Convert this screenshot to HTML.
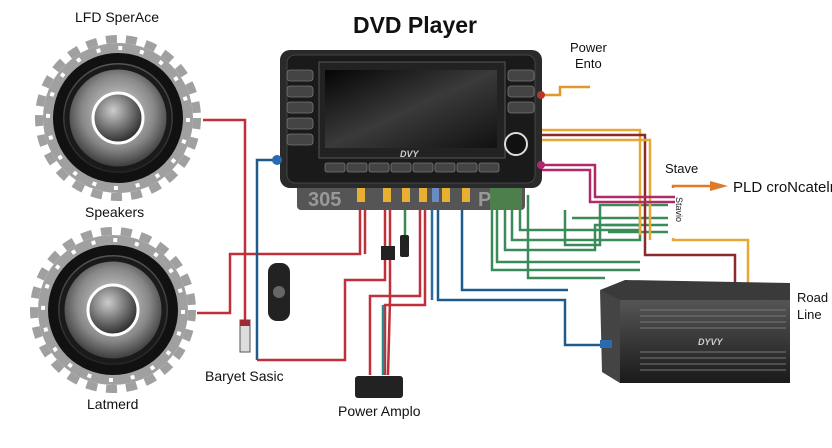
<!DOCTYPE html>
<html><head><meta charset="utf-8"><style>
html,body{margin:0;padding:0;background:#fff;}
svg{display:block;font-family:"Liberation Sans",sans-serif;}
</style></head><body>
<svg width="832" height="448" viewBox="0 0 832 448" xmlns="http://www.w3.org/2000/svg">
<defs>
<radialGradient id="cone" cx="50%" cy="45%" r="55%">
<stop offset="0" stop-color="#e0e0e0"/><stop offset="0.6" stop-color="#888"/><stop offset="1" stop-color="#222"/>
</radialGradient>
<radialGradient id="cap" cx="40%" cy="35%" r="70%">
<stop offset="0" stop-color="#ccc"/><stop offset="1" stop-color="#222"/>
</radialGradient>
<linearGradient id="scr" x1="0" y1="0" x2="1" y2="1">
<stop offset="0" stop-color="#050505"/><stop offset="0.5" stop-color="#3a3a3a"/><stop offset="1" stop-color="#111"/>
</linearGradient>
<linearGradient id="amp" x1="0" y1="0" x2="0" y2="1">
<stop offset="0" stop-color="#555"/><stop offset="1" stop-color="#1a1a1a"/>
</linearGradient>
<g id="speaker">
<circle cx="0" cy="0" r="75" fill="#a0a0a0"/>
<circle cx="0" cy="0" r="79" fill="none" stroke="#a0a0a0" stroke-width="8" stroke-dasharray="11 9"/>
<circle cx="0" cy="0" r="70" fill="none" stroke="#fff" stroke-width="4" stroke-dasharray="4 18"/>
<circle cx="0" cy="0" r="65" fill="#111"/>
<circle cx="0" cy="0" r="55" fill="url(#cone)"/>
<circle cx="0" cy="0" r="51" fill="none" stroke="#1a1a1a" stroke-width="5"/>
<circle cx="0" cy="0" r="25" fill="url(#cap)" stroke="#fff" stroke-width="3"/>
</g>
</defs>

<use href="#speaker" x="118" y="118"/>
<use href="#speaker" x="113" y="310"/>

<!-- wires -->
<g fill="none" stroke-width="2.5">
<polyline points="203,120 245,120 245,325" stroke="#c0303a"/>
<polyline points="197,313 230,313 230,254 360,254 360,205" stroke="#c0303a"/>
<polyline points="365,205 365,254" stroke="#c0303a"/>
<polyline points="277,160 257,160 257,360" stroke="#1e5a8a"/>
<polyline points="257,360 345,360 345,280 385,280 385,205" stroke="#c0303a"/>
<polyline points="390,205 390,300 388,375" stroke="#c0303a"/>
<polyline points="420,205 420,296 370,296 370,375" stroke="#c0303a"/>
<polyline points="425,205 425,305 385,305 385,375" stroke="#c0303a"/>
<polyline points="405,205 405,235" stroke="#3a8a4a"/>
<polyline points="383,305 383,375" stroke="#2a8a8a"/>
<polyline points="432,205 432,300" stroke="#2a6aa0"/>
<polyline points="438,205 438,300 565,300 565,345 605,345" stroke="#1e5a8a"/>
<polyline points="462,205 462,290 568,290" stroke="#1e5a8a"/>
<g stroke="#3a8a5a">
<polyline points="492,195 492,270 640,270"/>
<polyline points="497,195 497,262 640,262"/>
<polyline points="505,195 505,250 595,250 595,225 640,225"/>
<polyline points="512,195 512,240 640,240 640,218"/>
<polyline points="520,195 520,230 640,230"/>
<polyline points="528,195 528,278 605,278"/>
<polyline points="565,210 565,245 600,245 600,205 668,205"/>
<polyline points="572,218 668,218"/>
<polyline points="605,225 668,225"/>
<polyline points="608,232 668,232"/>
</g>
<polyline points="540,95 560,95 560,87 590,87" stroke="#e0982a"/>
<polyline points="540,130 640,130 640,235" stroke="#e8a838"/>
<polyline points="540,135 645,135 645,255 735,255 735,305" stroke="#8a2a2a"/>
<polyline points="540,140 650,140 650,240" stroke="#e8a838"/>
<polyline points="540,165 595,165 595,197 675,197" stroke="#b02a6a"/>
<polyline points="540,170 590,170 590,202 675,202" stroke="#b02a6a"/>
<polyline points="673,188 673,186 712,186" stroke="#e07a2a"/>
<polyline points="673,238 673,240 748,240 748,305" stroke="#e8a838"/>
</g>
<polygon points="710,181 728,186 710,191" fill="#e07a2a"/>
<text x="675" y="202" font-size="9" fill="#222" transform="rotate(90 678 200)">Stavio</text>

<!-- DVD player -->
<rect x="297" y="180" width="228" height="30" rx="4" fill="#555"/>
<text x="308" y="206" font-size="20" fill="#999" font-weight="bold">305</text>
<text x="478" y="206" font-size="20" fill="#999" font-weight="bold">P</text>
<g fill="#e8b030"><rect x="357" y="188" width="8" height="14"/><rect x="383" y="188" width="8" height="14"/><rect x="402" y="188" width="8" height="14"/><rect x="419" y="188" width="8" height="14"/><rect x="442" y="188" width="8" height="14"/><rect x="462" y="188" width="8" height="14"/></g>
<rect x="432" y="188" width="7" height="14" fill="#6a8ac0"/>
<rect x="490" y="185" width="32" height="25" fill="#4a8a4a" opacity="0.8"/>
<rect x="280" y="50" width="262" height="138" rx="10" fill="#2a2a2a"/>
<rect x="287" y="55" width="248" height="128" rx="8" fill="#1a1a1a" stroke="#444"/>
<rect x="319" y="62" width="186" height="96" fill="#222" stroke="#555"/>
<rect x="325" y="70" width="172" height="78" fill="url(#scr)"/>
<g fill="#444" stroke="#777" stroke-width="0.8">
<rect x="287" y="70" width="26" height="11" rx="3"/><rect x="287" y="86" width="26" height="11" rx="3"/><rect x="287" y="102" width="26" height="11" rx="3"/><rect x="287" y="118" width="26" height="11" rx="3"/><rect x="287" y="134" width="26" height="11" rx="3"/>
<rect x="508" y="70" width="26" height="11" rx="3"/><rect x="508" y="86" width="26" height="11" rx="3"/><rect x="508" y="102" width="26" height="11" rx="3"/>
<rect x="325" y="163" width="20" height="9" rx="2"/><rect x="347" y="163" width="20" height="9" rx="2"/><rect x="369" y="163" width="20" height="9" rx="2"/><rect x="391" y="163" width="20" height="9" rx="2"/><rect x="413" y="163" width="20" height="9" rx="2"/><rect x="435" y="163" width="20" height="9" rx="2"/><rect x="457" y="163" width="20" height="9" rx="2"/><rect x="479" y="163" width="20" height="9" rx="2"/>
</g>
<circle cx="516" cy="144" r="11" fill="#111" stroke="#ddd" stroke-width="2"/>
<text x="400" y="157" font-size="9" fill="#ccc" font-style="italic" font-weight="bold">DVY</text>
<circle cx="277" cy="160" r="5" fill="#2a6ab0"/>
<circle cx="541" cy="95" r="4" fill="#b03a2a"/>
<circle cx="541" cy="165" r="4" fill="#b02a6a"/>

<!-- small parts -->
<rect x="240" y="320" width="10" height="32" fill="#ddd" stroke="#555"/>
<rect x="240" y="320" width="10" height="6" fill="#a02a3a"/>
<rect x="268" y="263" width="22" height="58" rx="9" fill="#222"/>
<circle cx="279" cy="292" r="6" fill="#666"/>
<rect x="381" y="246" width="14" height="14" fill="#222"/>
<rect x="400" y="235" width="9" height="22" rx="2" fill="#222"/>
<rect x="355" y="376" width="48" height="22" rx="3" fill="#222"/>

<!-- amplifier -->
<polygon points="600,290 625,280 790,283 790,300 620,302" fill="#3a3a3a"/>
<rect x="620" y="300" width="170" height="83" fill="url(#amp)"/>
<polygon points="600,290 620,300 620,383 602,372" fill="#444"/>
<g stroke="#777" stroke-width="1">
<line x1="640" y1="310" x2="786" y2="310"/><line x1="640" y1="316" x2="786" y2="316"/><line x1="640" y1="322" x2="786" y2="322"/><line x1="640" y1="328" x2="786" y2="328"/>
<line x1="640" y1="352" x2="786" y2="352"/><line x1="640" y1="358" x2="786" y2="358"/><line x1="640" y1="364" x2="786" y2="364"/><line x1="640" y1="370" x2="786" y2="370"/>
</g>
<text x="698" y="345" font-size="9" fill="#ccc" font-style="italic" font-weight="bold">DYVY</text>
<rect x="600" y="340" width="12" height="8" fill="#2a6ab0"/>

<!-- labels -->
<text x="415" y="33" font-size="23" font-weight="bold" text-anchor="middle" fill="#111">DVD Player</text>
<g font-size="14" fill="#111">
<text x="75" y="22">LFD SperAce</text>
<text x="85" y="217">Speakers</text>
<text x="87" y="409">Latmerd</text>
<text x="205" y="381">Baryet Sasic</text>
<text x="338" y="416">Power Amplo</text>
<text x="570" y="52" font-size="13">Power</text>
<text x="575" y="68" font-size="13">Ento</text>
<text x="665" y="173" font-size="13">Stave</text>
<text x="733" y="192" font-size="15">PLD croNcatelr</text>
<text x="797" y="302" font-size="13">Road</text>
<text x="797" y="319" font-size="13">Line</text>
</g>
</svg>
</body></html>
